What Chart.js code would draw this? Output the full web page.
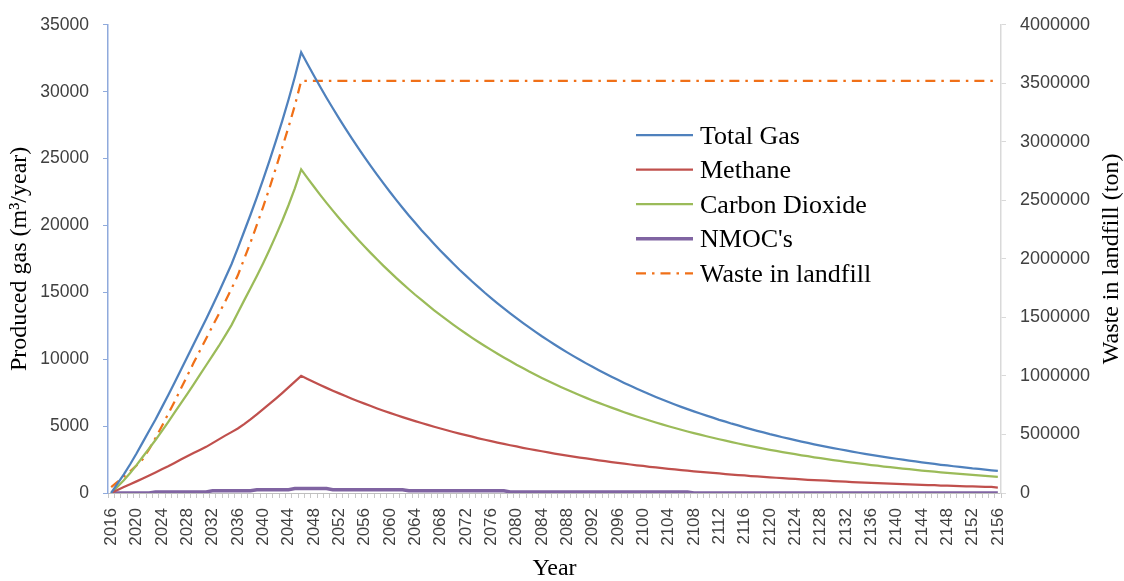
<!DOCTYPE html>
<html>
<head>
<meta charset="utf-8">
<title>Landfill gas production</title>
<script src="https://cdn.jsdelivr.net/npm/chart.js@4.4.0/dist/chart.umd.min.js"></script>
<style>
    html, body { margin: 0; padding: 0; background: #fff; }
    #wrap { width: 1124px; height: 581px; }
</style>
</head>
<body>
<div id="wrap"><canvas id="gas-chart" width="1124" height="581"></canvas></div>
<script>
// Years on the category axis
const years = [
    2016, 2017, 2018, 2019, 2020, 2021, 2022, 2023, 2024, 2025,
    2026, 2027, 2028, 2029, 2030, 2031, 2032, 2033, 2034, 2035,
    2036, 2037, 2038, 2039, 2040, 2041, 2042, 2043, 2044, 2045,
    2046, 2047, 2048, 2049, 2050, 2051, 2052, 2053, 2054, 2055,
    2056, 2057, 2058, 2059, 2060, 2061, 2062, 2063, 2064, 2065,
    2066, 2067, 2068, 2069, 2070, 2071, 2072, 2073, 2074, 2075,
    2076, 2077, 2078, 2079, 2080, 2081, 2082, 2083, 2084, 2085,
    2086, 2087, 2088, 2089, 2090, 2091, 2092, 2093, 2094, 2095,
    2096, 2097, 2098, 2099, 2100, 2101, 2102, 2103, 2104, 2105,
    2106, 2107, 2108, 2109, 2110, 2111, 2112, 2113, 2114, 2115,
    2116, 2117, 2118, 2119, 2120, 2121, 2122, 2123, 2124, 2125,
    2126, 2127, 2128, 2129, 2130, 2131, 2132, 2133, 2134, 2135,
    2136, 2137, 2138, 2139, 2140, 2141, 2142, 2143, 2144, 2145,
    2146, 2147, 2148, 2149, 2150, 2151, 2152, 2153, 2154, 2155,
    2156
];

// Produced gas, m3/year (left axis)
const totalGas = [
    0, 700, 1400, 2150, 2950, 3800, 4650, 5500, 6400, 7300,
    8250, 9200, 10150, 11100, 12050, 13000, 14000, 15000, 16050, 17100,
    18300, 19550, 20800, 22100, 23450, 24850, 26300, 27800, 29400, 31100,
    32950, 32070, 31210, 30370, 29550, 28760, 27990, 27240, 26510, 25800,
    25100, 24430, 23780, 23140, 22520, 21910, 21320, 20750, 20200, 19650,
    19130, 18610, 18110, 17630, 17150, 16690, 16250, 15810, 15390, 14970,
    14570, 14180, 13800, 13430, 13070, 12720, 12380, 12050, 11720, 11410,
    11100, 10800, 10510, 10230, 9960, 9690, 9430, 9180, 8930, 8690,
    8460, 8230, 8010, 7800, 7590, 7380, 7180, 6990, 6800, 6620,
    6440, 6270, 6100, 5940, 5780, 5630, 5470, 5330, 5180, 5050,
    4910, 4780, 4650, 4530, 4400, 4290, 4170, 4060, 3950, 3840,
    3740, 3640, 3540, 3450, 3360, 3270, 3180, 3090, 3010, 2930,
    2850, 2770, 2700, 2630, 2560, 2490, 2420, 2360, 2290, 2230,
    2170, 2110, 2060, 2000, 1950, 1900, 1840, 1800, 1750, 1700,
    1650
];

const methane = [
    0, 230, 450, 660, 870, 1090, 1310, 1540, 1770, 2000,
    2250, 2500, 2750, 2990, 3220, 3450, 3730, 4010, 4290, 4550,
    4820, 5150, 5500, 5880, 6270, 6660, 7060, 7470, 7890, 8320,
    8760, 8530, 8300, 8080, 7860, 7650, 7450, 7250, 7050, 6860,
    6680, 6500, 6320, 6150, 5990, 5830, 5670, 5520, 5370, 5230,
    5090, 4950, 4820, 4690, 4560, 4440, 4320, 4210, 4090, 3980,
    3880, 3770, 3670, 3570, 3480, 3380, 3290, 3200, 3120, 3030,
    2950, 2870, 2800, 2720, 2650, 2580, 2510, 2440, 2380, 2310,
    2250, 2190, 2130, 2070, 2020, 1960, 1910, 1860, 1810, 1760,
    1710, 1670, 1620, 1580, 1540, 1500, 1460, 1420, 1380, 1340,
    1310, 1270, 1240, 1200, 1170, 1140, 1110, 1080, 1050, 1020,
    990, 970, 940, 920, 890, 870, 850, 820, 800, 780,
    760, 740, 720, 700, 680, 660, 640, 630, 610, 590,
    580, 560, 550, 530, 520, 500, 490, 480, 460, 450,
    410
];

const carbonDioxide = [
    0, 470, 950, 1490, 2080, 2710, 3340, 3960, 4630, 5300,
    6000, 6700, 7400, 8110, 8830, 9550, 10270, 10990, 11760, 12550,
    13480, 14400, 15300, 16220, 17180, 18190, 19240, 20330, 21510, 22780,
    24190, 23540, 22910, 22290, 21690, 21110, 20540, 19990, 19460, 18930,
    18430, 17930, 17450, 16980, 16530, 16080, 15650, 15230, 14820, 14430,
    14040, 13660, 13290, 12940, 12590, 12250, 11920, 11600, 11290, 10990,
    10700, 10410, 10130, 9860, 9590, 9340, 9080, 8840, 8600, 8370,
    8150, 7930, 7720, 7510, 7310, 7110, 6920, 6740, 6560, 6380,
    6210, 6040, 5880, 5720, 5570, 5420, 5270, 5130, 4990, 4860,
    4730, 4600, 4480, 4360, 4240, 4130, 4020, 3910, 3800, 3700,
    3600, 3510, 3410, 3320, 3230, 3150, 3060, 2980, 2900, 2820,
    2750, 2670, 2600, 2530, 2460, 2400, 2330, 2270, 2210, 2150,
    2090, 2040, 1980, 1930, 1880, 1830, 1780, 1730, 1680, 1640,
    1590, 1550, 1510, 1470, 1430, 1390, 1350, 1320, 1280, 1250,
    1210
];

const nmocs = [
    0, 0, 0, 0, 0, 0, 0, 80, 80, 80,
    80, 80, 80, 80, 80, 80, 170, 170, 170, 170,
    170, 170, 170, 250, 250, 250, 250, 250, 250, 330,
    330, 330, 330, 330, 330, 250, 250, 250, 250, 250,
    250, 250, 250, 250, 250, 250, 250, 170, 170, 170,
    170, 170, 170, 170, 170, 170, 170, 170, 170, 170,
    170, 170, 170, 80, 80, 80, 80, 80, 80, 80,
    80, 80, 80, 80, 80, 80, 80, 80, 80, 80,
    80, 80, 80, 80, 80, 80, 80, 80, 80, 80,
    80, 80, 0, 0, 0, 0, 0, 0, 0, 0,
    0, 0, 0, 0, 0, 0, 0, 0, 0, 0,
    0, 0, 0, 0, 0, 0, 0, 0, 0, 0,
    0, 0, 0, 0, 0, 0, 0, 0, 0, 0,
    0, 0, 0, 0, 0, 0, 0, 0, 0, 0,
    0
];

// Waste in landfill, ton (right axis)
const wasteInLandfill = [
    50000, 95000, 140000, 185000, 235000, 290000, 375000, 470000, 570000, 675000,
    780000, 890000, 1000000, 1110000, 1215000, 1320000, 1425000, 1530000, 1635000, 1745000,
    1860000, 2000000, 2140000, 2290000, 2445000, 2605000, 2775000, 2950000, 3125000, 3310000,
    3520000, 3520000, 3520000, 3520000, 3520000, 3520000, 3520000, 3520000, 3520000, 3520000,
    3520000, 3520000, 3520000, 3520000, 3520000, 3520000, 3520000, 3520000, 3520000, 3520000,
    3520000, 3520000, 3520000, 3520000, 3520000, 3520000, 3520000, 3520000, 3520000, 3520000,
    3520000, 3520000, 3520000, 3520000, 3520000, 3520000, 3520000, 3520000, 3520000, 3520000,
    3520000, 3520000, 3520000, 3520000, 3520000, 3520000, 3520000, 3520000, 3520000, 3520000,
    3520000, 3520000, 3520000, 3520000, 3520000, 3520000, 3520000, 3520000, 3520000, 3520000,
    3520000, 3520000, 3520000, 3520000, 3520000, 3520000, 3520000, 3520000, 3520000, 3520000,
    3520000, 3520000, 3520000, 3520000, 3520000, 3520000, 3520000, 3520000, 3520000, 3520000,
    3520000, 3520000, 3520000, 3520000, 3520000, 3520000, 3520000, 3520000, 3520000, 3520000,
    3520000, 3520000, 3520000, 3520000, 3520000, 3520000, 3520000, 3520000, 3520000, 3520000,
    3520000, 3520000, 3520000, 3520000, 3520000, 3520000, 3520000, 3520000, 3520000, 3520000,
    3520000
];

const leftTitle = 'Produced gas (m\u00B3/year)';
const rightTitle = 'Waste in landfill (ton)';
const xTitle = 'Year';

const TICK_FONT = { family: '"Liberation Sans", Arial, sans-serif', size: 17.5 };
const SERIF = '"Liberation Serif", "Times New Roman", serif';

/**
 * Legend inside the plot and the right axis title (reads bottom to top)
 */
const overlayPlugin = {
    id: 'overlay',
    afterDraw(chart) {
        const ctx = chart.ctx;
        ctx.save();

        // legend entries, taken from the datasets
        chart.data.datasets.forEach((ds, i) => {
            const y = 135 + i * 34.6;
            ctx.beginPath();
            ctx.strokeStyle = ds.borderColor;
            ctx.lineWidth = ds.borderWidth;
            ctx.setLineDash(ds.borderDash || []);
            ctx.moveTo(636, y);
            ctx.lineTo(693, y);
            ctx.stroke();
            ctx.setLineDash([]);

            ctx.fillStyle = '#000';
            ctx.font = '26px ' + SERIF;
            ctx.textAlign = 'left';
            ctx.textBaseline = 'alphabetic';
            ctx.fillText(ds.label, 700, y + 8.6);
        });

        // right axis title
        const area = chart.chartArea;
        ctx.translate(1112, (area.top + area.bottom) / 2);
        ctx.rotate(-Math.PI / 2);
        ctx.font = '24px ' + SERIF;
        ctx.fillStyle = '#000';
        ctx.textAlign = 'center';
        ctx.textBaseline = 'middle';
        ctx.fillText(rightTitle, 0, 0);

        ctx.restore();
    }
};

const ctx = document.getElementById('gas-chart').getContext('2d');

new Chart(ctx, {
    type: 'line',
    data: {
        labels: years,
        datasets: [
            {
                label: 'Total Gas',
                data: totalGas,
                borderColor: '#4F81BD',
                borderWidth: 2.25,
                yAxisID: 'y'
            },
            {
                label: 'Methane',
                data: methane,
                borderColor: '#C0504D',
                borderWidth: 2.25,
                yAxisID: 'y'
            },
            {
                label: 'Carbon Dioxide',
                data: carbonDioxide,
                borderColor: '#9BBB59',
                borderWidth: 2.25,
                yAxisID: 'y'
            },
            {
                label: "NMOC's",
                data: nmocs,
                borderColor: '#8064A2',
                borderWidth: 3.5,
                yAxisID: 'y'
            },
            {
                label: 'Waste in landfill',
                data: wasteInLandfill,
                borderColor: '#F07018',
                borderWidth: 2.25,
                borderDash: [10, 6, 2.5, 6],
                yAxisID: 'y1'
            }
        ]
    },
    options: {
        responsive: false,
        animation: false,
        devicePixelRatio: 1,
        layout: {
            padding: { top: 22, left: 0, right: 0, bottom: 0 }
        },
        elements: {
            point: { radius: 0, hoverRadius: 0 },
            line: { tension: 0, fill: false, borderCapStyle: 'butt' }
        },
        plugins: {
            legend: { display: false },
            tooltip: { enabled: false }
        },
        scales: {
            x: {
                type: 'category',
                offset: true,
                afterFit(scale) { scale.height = 88; },
                grid: {
                    offset: true,
                    drawOnChartArea: false,
                    drawTicks: true,
                    tickLength: 5,
                    tickColor: '#C8C8C8'
                },
                border: { color: '#BFBFBF', width: 1 },
                ticks: {
                    autoSkip: false,
                    minRotation: 90,
                    maxRotation: 90,
                    padding: 10,
                    color: '#404040',
                    font: { family: TICK_FONT.family, size: 17 },
                    callback: function(value, index) {
                        return index % 4 === 0 ? String(years[index]) : '';
                    }
                },
                title: {
                    display: true,
                    text: xTitle,
                    color: '#000',
                    font: { family: SERIF, size: 24, lineHeight: 1 },
                    padding: 0
                }
            },
            y: {
                position: 'left',
                min: 0,
                max: 35000,
                afterFit(scale) { scale.width = 108; },
                grid: {
                    drawOnChartArea: false,
                    drawTicks: true,
                    tickLength: 5,
                    tickColor: '#8FAADC'
                },
                border: { color: '#8FAADC', width: 1.5 },
                ticks: {
                    stepSize: 5000,
                    padding: 14,
                    color: '#404040',
                    font: TICK_FONT,
                    callback: function(value) { return String(value); }
                },
                title: {
                    display: true,
                    text: leftTitle,
                    color: '#000',
                    font: { family: SERIF, size: 24, lineHeight: 1 },
                    padding: 8
                }
            },
            y1: {
                position: 'right',
                min: 0,
                max: 4000000,
                afterFit(scale) { scale.width = 123; },
                grid: {
                    drawOnChartArea: false,
                    drawTicks: true,
                    tickLength: 5,
                    tickColor: '#D9D9D9'
                },
                border: { color: '#D9D9D9', width: 1.5 },
                ticks: {
                    stepSize: 500000,
                    padding: 14,
                    color: '#404040',
                    font: { family: TICK_FONT.family, size: 18 },
                    callback: function(value) { return String(value); }
                },
                title: { display: false }
            }
        }
    },
    plugins: [overlayPlugin]
});
</script>
</body>
</html>
